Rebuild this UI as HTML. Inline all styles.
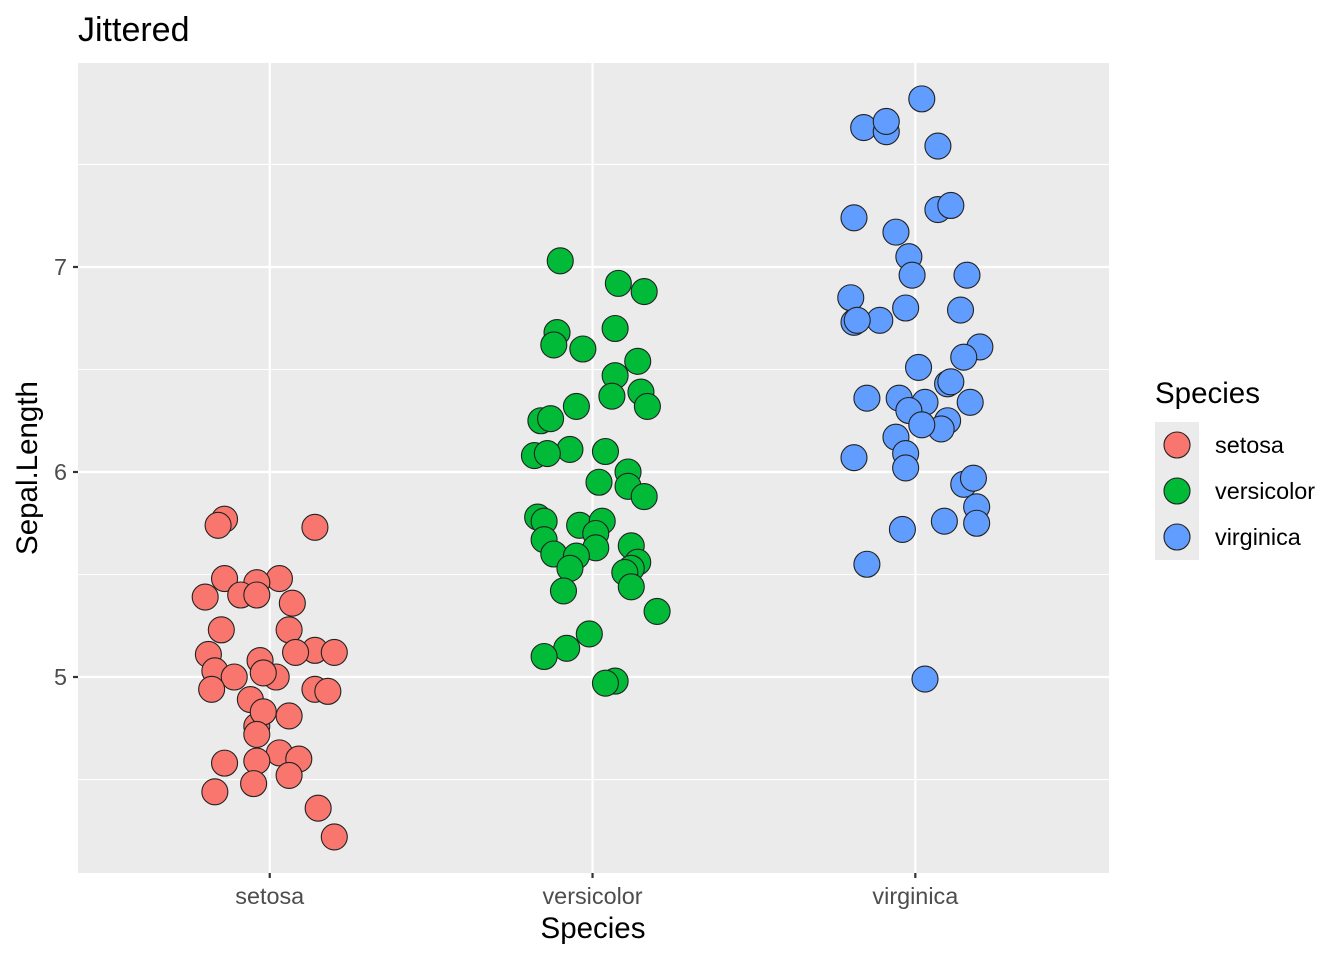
<!DOCTYPE html>
<html><head><meta charset="utf-8"><style>
html,body{margin:0;padding:0;background:#fff;}
svg{display:block;font-family:"Liberation Sans",Arial,sans-serif;}
</style></head><body>
<svg id="chart" width="1344" height="960" viewBox="0 0 1344 960">
<text x="78" y="41" font-size="34" fill="#000">Jittered</text>
<rect x="78" y="63" width="1031" height="810" fill="#ebebeb"/>
<g id="grid"></g>
<g id="points"></g>
<g id="axes"></g>
<text x="593" y="938" font-size="29.5" text-anchor="middle">Species</text>
<text transform="translate(37,468) rotate(-90)" font-size="29.5" text-anchor="middle">Sepal.Length</text>
<g id="legend">
<text x="1155" y="403" font-size="29.5">Species</text>
</g>
</svg>
<script>
const categories = ["setosa","versicolor","virginica"];
const colors = ["#F8766D","#00BA38","#619CFF"];
const yTicks = [5,6,7];
const yMinor = [4.5,5.5,6.5,7.5];
const setosaJitter = [-0.14,-0.16,0.14,-0.14,0.03,-0.04,-0.20,-0.09,-0.04,0.07,-0.15,0.06,-0.19,-0.03,0.14,0.20,0.08,-0.17,-0.11,0.02,-0.02,-0.18,0.14,0.18,-0.06,-0.04,-0.02,0.06,-0.04,0.03,0.09,-0.14,-0.04,0.06,-0.17,-0.05,0.15,0.20];
const setosaValues = [5.77,5.74,5.73,5.48,5.48,5.46,5.39,5.40,5.40,5.36,5.23,5.23,5.11,5.08,5.13,5.12,5.12,5.03,5.00,5.00,5.02,4.94,4.94,4.93,4.89,4.76,4.83,4.81,4.72,4.63,4.60,4.58,4.59,4.52,4.44,4.48,4.36,4.22];
const versicolorJitter = [-0.10,0.08,0.16,0.07,-0.11,-0.12,-0.03,0.14,0.07,0.06,0.15,0.17,-0.05,-0.16,-0.13,-0.07,0.04,-0.18,-0.14,0.11,0.02,0.11,0.16,-0.17,-0.15,-0.04,0.03,0.01,-0.15,0.01,0.12,-0.12,-0.05,0.14,0.12,-0.07,0.10,0.12,-0.09,0.20,-0.01,-0.08,-0.15,0.07,0.04];
const versicolorValues = [7.03,6.92,6.88,6.70,6.68,6.62,6.60,6.54,6.47,6.37,6.39,6.32,6.32,6.25,6.26,6.11,6.10,6.08,6.09,6.00,5.95,5.93,5.88,5.78,5.76,5.74,5.76,5.70,5.67,5.63,5.64,5.60,5.59,5.56,5.53,5.53,5.51,5.44,5.42,5.32,5.21,5.14,5.10,4.98,4.97];
const virginicaJitter = [0.02,-0.16,-0.09,-0.09,0.07,0.07,0.11,-0.19,-0.06,-0.02,-0.01,0.16,-0.20,-0.03,0.14,0.20,-0.19,-0.11,-0.18,0.15,0.01,0.10,0.11,-0.15,-0.05,0.03,0.17,-0.02,0.10,0.08,0.02,-0.06,-0.03,-0.19,-0.03,0.15,0.18,0.19,0.19,0.09,-0.04,-0.15,0.03];
const virginicaValues = [7.82,7.68,7.66,7.71,7.59,7.28,7.30,7.24,7.17,7.05,6.96,6.96,6.85,6.80,6.79,6.61,6.73,6.74,6.74,6.56,6.51,6.43,6.44,6.36,6.36,6.34,6.34,6.30,6.25,6.21,6.23,6.17,6.09,6.07,6.02,5.94,5.97,5.83,5.75,5.76,5.72,5.55,4.99];

const NS="http://www.w3.org/2000/svg";
const PX0=78,PX1=1109,PY0=63,PY1=873;
const XMIN=0.406,XMAX=3.6,YMIN=4.044,YMAX=7.995;
const xs=v=>PX0+(v-XMIN)/(XMAX-XMIN)*(PX1-PX0);
const ys=v=>PY1-(v-YMIN)/(YMAX-YMIN)*(PY1-PY0);
function mk(tag,attrs,parent){const e=document.createElementNS(NS,tag);for(const k in attrs)e.setAttribute(k,attrs[k]);parent.appendChild(e);return e;}
const grid=document.getElementById('grid'),axes=document.getElementById('axes'),pts=document.getElementById('points'),leg=document.getElementById('legend');
yMinor.forEach(v=>{const l=mk('line',{x1:PX0,x2:PX1,y1:ys(v),y2:ys(v),stroke:'#fff','stroke-width':1.1},grid);

});
yTicks.forEach(v=>{const l=mk('line',{x1:PX0,x2:PX1,y1:ys(v),y2:ys(v),stroke:'#fff','stroke-width':2.2},grid);


const t=mk('line',{x1:PX0-5,x2:PX0,y1:ys(v),y2:ys(v),stroke:'#333','stroke-width':2.2},axes);


const tx=mk('text',{x:PX0-11,y:ys(v)+8,'text-anchor':'end','font-size':23.4,fill:'#4d4d4d'},axes);tx.textContent=v;

});
categories.forEach((c,i)=>{const x=xs(i+1);
const l=mk('line',{x1:x,x2:x,y1:PY0,y2:PY1,stroke:'#fff','stroke-width':2.2},grid);


const t=mk('line',{x1:x,x2:x,y1:PY1,y2:PY1+5,stroke:'#333','stroke-width':2.2},axes);


const tx=mk('text',{x:x,y:PY1+31,'text-anchor':'middle','font-size':23.4,fill:'#4d4d4d'},axes);tx.textContent=c;

});
const series=[[setosaJitter,setosaValues],[versicolorJitter,versicolorValues],[virginicaJitter,virginicaValues]];
series.forEach((s,i)=>{s[1].forEach((v,j)=>{const c=mk('circle',{cx:xs(i+1+s[0][j]),cy:ys(v),r:13,fill:colors[i],stroke:'#222','stroke-width':1.1},pts);

});});
categories.forEach((c,i)=>{const cy=445+i*46;
const bg=mk('rect',{x:1155,y:cy-23,width:44,height:46,fill:'#ebebeb'},leg);


const k=mk('circle',{cx:1177,cy:cy,r:13,fill:colors[i],stroke:'#222','stroke-width':1.1},leg);


const t=mk('text',{x:1215,y:cy+8,'font-size':23.4,fill:'#000'},leg);t.textContent=c;

});
</script>
</body></html>
